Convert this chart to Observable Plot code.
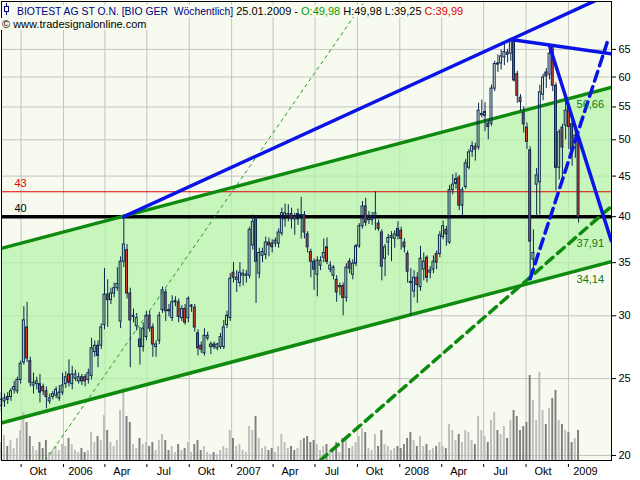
<!DOCTYPE html>
<html>
<head>
<meta charset="utf-8">
<script src="https://cdn.jsdelivr.net/npm/d3@7"></script>
<script src="https://cdn.jsdelivr.net/npm/@observablehq/plot@0.6"></script>
<style>
  html, body { margin: 0; padding: 0; background: #ffffff; }
  #chart { position: relative; width: 640px; height: 480px; overflow: hidden; }
  #chart svg { position: absolute; left: 0; top: 0; }
</style>
</head>
<body>
<div id="chart"></div>
<script>
// Weekly bars, one per week, ending on Fridays
const firstWeek = new Date(2005, 7, 19);

const open = [
  23.1,23.4,23.7,23.7,24.2,24.1,24.9,26.2,29.0,26.3, 24.5,24.6,24.6,24.4,24.1,23.4,23.7,23.8,23.6,24.0,
  24.6,25.3,24.6,25.0,24.8,25.1,25.1,24.9,25.2,27.0, 27.5,27.5,29.2,31.9,31.4,32.0,32.5,29.5,35.1,36.3,
  32.0,29.9,29.1,28.0,27.4,28.2,30.0,29.0,27.4,27.9, 30.5,32.1,30.5,29.8,31.2,31.2,29.8,30.6,29.8,30.8,
  30.7,28.5,27.5,26.9,28.1,27.4,27.6,27.3,27.4,27.4, 29.2,29.8,34.0,33.3,33.0,33.7,33.7,33.7,36.8,39.7,
  33.9,35.7,35.8,37.1,37.0,37.0,37.0,38.1,39.7,40.0, 40.3,40.0,39.7,39.8,40.2,38.0,36.1,35.1,33.8,34.7,
  35.5,36.6,34.3,33.7,33.3,32.6,32.7,31.6,35.1,33.8, 34.9,36.7,38.9,41.2,39.6,39.6,39.8,39.2,38.2,35.4,
  37.1,37.6,37.5,38.6,38.4,37.1,35.9,33.1,32.2,33.5, 32.6,34.3,35.5,34.0,34.3,35.9,35.9,37.7,38.5,37.1,
  43.2,44.0,44.8,41.3,43.6,46.1,48.3,49.0,48.9,53.7, 53.6,52.4,52.4,58.0,62.4,62.4,63.5,64.4,64.2,66.4,
  60.5,56.5,54.0,51.8,48.5,35.3,43.9,44.2,57.0,60.8, 60.4,65.2,58.5,46.1,51.8,52.1,54.8,52.3,48.9,49.98
];
const high = [
  24.0,23.9,24.0,24.3,24.8,25.1,26.3,30.8,31.2,26.6, 25.4,25.1,25.3,24.6,24.4,23.9,24.1,24.4,24.5,25.4,
  25.5,26.4,25.9,25.6,25.4,25.3,25.3,25.7,28.1,27.9, 27.9,29.3,34.4,33.3,32.5,33.0,34.5,35.6,40.0,36.9,
  32.5,30.6,30.2,29.0,29.4,30.4,30.4,29.3,27.9,30.3, 32.6,32.4,31.0,31.8,31.7,31.5,30.9,31.0,31.7,31.0,
  31.0,28.8,27.8,28.9,28.6,27.8,27.8,27.7,28.5,29.6, 30.4,33.9,35.0,34.2,35.0,34.3,34.2,38.8,40.2,40.0,
  36.5,36.5,37.7,37.6,37.4,37.6,38.6,41.0,41.5,41.4, 41.0,40.4,40.9,42.3,40.6,38.3,36.4,35.4,35.6,35.6,
  37.5,37.6,35.1,34.7,33.7,33.0,33.0,34.9,35.4,35.3, 36.9,39.2,41.8,42.2,40.6,40.5,43.0,39.6,38.5,36.9,
  38.0,38.3,38.4,39.4,38.8,37.5,36.2,34.4,34.2,34.0, 36.7,36.0,35.7,34.6,35.7,36.2,38.3,39.5,38.9,43.8,
  45.2,45.4,45.1,43.5,47.2,48.6,49.7,49.5,55.6,56.1, 55.7,53.0,58.6,62.8,64.0,64.9,66.0,65.0,66.9,66.6,
  61.0,57.0,55.0,52.5,49.0,38.5,46.0,58.6,60.5,61.5, 65.7,65.5,59.0,51.5,52.3,56.3,55.5,53.0,51.8,49.98
];
const low = [
  22.7,23.0,23.2,23.4,23.9,23.9,24.6,26.0,26.2,24.4, 23.9,24.2,23.3,23.8,22.9,23.2,23.5,23.6,23.4,23.8,
  24.3,24.4,24.2,24.8,24.6,24.5,24.4,24.6,24.9,26.6, 25.8,27.2,28.8,29.0,31.0,31.6,32.2,28.9,34.5,31.5,
  25.8,29.4,28.7,26.0,27.0,27.9,28.6,26.6,26.6,27.6, 30.2,29.5,29.9,29.5,30.8,29.4,29.5,29.2,29.4,30.3,
  28.6,26.7,26.9,26.7,27.9,26.8,27.2,27.1,27.2,27.2, 28.9,29.5,33.0,32.1,32.6,32.7,33.0,33.4,36.3,31.1,
  33.4,35.0,35.3,35.6,36.0,36.6,36.5,37.8,38.8,39.4, 38.6,37.9,39.0,37.5,37.5,36.0,33.5,32.3,31.7,34.2,
  35.0,34.8,34.0,33.3,31.2,31.8,30.0,31.2,33.9,33.3, 34.6,36.5,38.6,38.9,39.1,39.0,38.4,38.3,33.2,33.6,
  35.7,35.1,36.5,37.4,36.3,36.0,33.0,30.0,31.6,31.1, 32.2,33.2,33.0,33.4,33.9,34.3,35.5,37.4,36.7,36.9,
  42.6,43.3,40.7,40.0,43.3,45.8,47.5,47.0,48.5,53.3, 51.2,50.0,52.0,57.5,60.8,61.2,62.0,62.5,62.8,59.1,
  55.6,54.3,51.0,48.6,33.4,34.0,40.0,40.2,56.0,58.0, 59.5,57.5,43.1,44.5,44.0,50.0,48.6,46.3,47.4,39.25
];
const close = [
  23.5,23.6,23.5,24.1,24.4,24.9,26.1,29.6,26.5,24.7, 24.7,24.8,24.0,24.1,23.7,23.6,23.9,24.2,24.0,24.5,
  25.1,24.7,25.3,25.3,25.1,24.8,24.8,25.4,27.3,27.5, 26.7,29.0,31.9,31.4,32.0,32.5,32.9,35.1,36.9,32.0,
  29.6,30.0,29.8,27.4,28.9,30.0,28.9,27.6,27.6,30.0, 32.3,30.4,30.4,31.2,31.3,29.9,30.6,29.4,31.5,30.9,
  29.0,27.3,27.2,28.3,28.3,27.6,27.4,27.6,28.2,29.0, 30.0,33.4,33.5,33.5,34.0,33.9,33.8,38.5,39.4,35.1,
  36.0,36.1,37.1,36.8,36.6,37.3,38.2,40.4,40.4,40.3, 39.7,39.7,40.3,40.2,38.2,36.6,35.1,34.3,35.2,35.2,
  36.0,35.1,34.7,34.5,32.1,32.7,31.6,34.5,34.4,34.9, 36.7,38.9,41.2,39.3,40.1,40.0,40.4,38.6,34.6,36.6,
  37.6,37.8,38.0,37.8,37.5,36.6,34.1,33.0,33.5,32.8, 35.4,35.1,33.5,34.2,35.1,35.0,37.9,38.9,38.0,43.2,
  43.9,44.6,41.3,43.2,46.7,48.2,49.1,48.6,54.4,53.9, 54.2,51.9,58.0,62.3,62.2,63.7,64.5,64.0,66.5,59.4,
  56.8,55.8,52.3,49.7,37.2,36.0,45.1,57.4,59.9,60.1, 64.2,58.5,46.1,51.1,48.9,54.4,51.9,48.5,50.6,39.99
];
// Weekly volume, thousand shares
const volume = [
  90,125,70,100,60,110,150,240,190,120, 70,50,90,60,100,40,50,70,50,80,
  70,110,80,50,40,60,40,50,140,90, 120,100,225,150,90,70,100,250,360,220,
  190,80,60,110,80,90,70,90,50,100, 130,100,50,70,40,80,50,60,90,40,
  80,100,50,70,40,30,40,30,50,70, 60,150,110,70,80,50,40,170,150,220,
  110,60,70,50,60,40,70,130,90,60, 70,50,60,100,110,120,90,100,80,50,
  70,80,50,60,90,40,110,120,60,70, 90,120,160,140,60,50,130,70,150,80,
  70,50,60,70,60,80,110,140,100,70, 120,70,80,50,60,70,90,70,60,180,
  150,100,130,90,150,140,100,80,220,150, 120,90,200,240,150,130,170,110,200,250,
  220,150,170,190,425,300,200,440,250,180, 260,310,350,200,180,150,140,90,110,150
];

// Trend lines and levels (date, price)
const channelDates = [new Date(2005, 7, 19), new Date(2009, 3, 4)];
const channelLower = [21.98, 35.10];
const channelUpper = [36.48, 58.20];

const resistanceDates = [new Date(2006, 4, 12), new Date(2008, 7, 29), new Date(2009, 3, 4)];
const resistancePrices = [40.0, 66.9, 76.5];
const topLineDates = [new Date(2008, 7, 29), new Date(2009, 3, 4)];
const topLinePrices = [66.9, 64.2];
const fallLineDates = [new Date(2008, 10, 21), new Date(2009, 3, 4)];
const fallLinePrices = [65.7, 37.3];
const riseLineDates = [new Date(2008, 9, 10), new Date(2009, 2, 26)];
const riseLinePrices = [33.4, 66.3];
const supportDashDates = [new Date(2007, 6, 12), new Date(2009, 3, 4)];
const supportDashPrices = [19.71, 41.2];
const thinDashDates = [new Date(2005, 10, 23), new Date(2007, 9, 16)];
const thinDashPrices = [19.71, 74.7];

const levels = [43, 40];
const levelColors = ["#e00000", "#000000"];
const levelWidths = [1, 3.5];

const markerDate = new Date(2009, 0, 23);
const markerValues = [56.66, 37.91, 34.14];

const priceTicks = [20, 25, 30, 35, 40, 45, 50, 55, 60, 65];
const timeTicks = [
  new Date(2005, 9, 1), new Date(2006, 0, 1), new Date(2006, 3, 1), new Date(2006, 6, 1),
  new Date(2006, 9, 1), new Date(2007, 0, 1), new Date(2007, 3, 1), new Date(2007, 6, 1),
  new Date(2007, 9, 1), new Date(2008, 0, 1), new Date(2008, 3, 1), new Date(2008, 6, 1),
  new Date(2008, 9, 1), new Date(2009, 0, 1)
];
const timeLabels = ["Okt","2006","Apr","Jul","Okt","2007","Apr","Jul","Okt","2008","Apr","Jul","Okt","2009"];

const titleName = "BIOTEST AG ST O.N. [BIO GER  Wöchentlich]";
const titleDate = "25.01.2009";
const sourceText = "© www.tradesignalonline.com";

// ---------- derived tables ----------
const dayMs = 864e5;
const bars = open.map((o, i) => ({
  date: new Date(firstWeek.getTime() + 7 * i * dayMs),
  o, h: high[i], l: low[i], c: close[i], v: volume[i]
}));
const half = 2.1 * dayMs;
const channel = channelDates.map((date, i) => ({date, lo: channelLower[i], hi: channelUpper[i]}));
const pts = (ds, ps) => ds.map((date, i) => ({date, p: ps[i]}));
const fmt = v => v.toFixed(2).replace(".", ",");
const ticks = timeTicks.map((date, i) => ({date, label: timeLabels[i]}));

const W = 640, H = 480;
const sans = "'Liberation Sans', Arial, sans-serif";
const base = {
  width: W, height: H,
  marginLeft: 1, marginRight: 29, marginTop: 1, marginBottom: 20,
  style: {background: "none", fontFamily: sans, fontSize: "11px", color: "#000"}
};
const xScale = {type: "time", domain: [new Date(2005, 7, 19, 12), new Date(2009, 3, 4, 12)]};
const yScale = {type: "log", domain: [19.71, 74.7]};

const navy = "#0b2450";
const redFill = "#e2401a";
const bg = "#f7fbef";

// back layer: plot area, grid, channel fill
const back = Plot.plot({
  ...base,
  style: {...base.style, background: "#ffffff"},
  x: {...xScale, axis: null},
  y: {...yScale, axis: null},
  marks: [
    Plot.frame({fill: bg, stroke: null}),
    Plot.gridX(timeTicks, {stroke: "#c3c3c3", strokeOpacity: 1}),
    Plot.gridY(priceTicks, {stroke: "#c3c3c3", strokeOpacity: 1}),
    Plot.areaY(channel, {x: "date", y1: "lo", y2: "hi", fill: "#b4f4a8", fillOpacity: 0.72})
  ]
});

// volume layer
const vol = Plot.plot({
  ...base,
  x: {...xScale, axis: null},
  y: {type: "linear", domain: [0, 2295], axis: null},
  marks: [
    Plot.rect(bars, {
      x1: d => new Date(d.date.getTime() - half),
      x2: d => new Date(d.date.getTime() + half),
      y1: 0, y2: "v",
      fill: d => d.c < d.o ? "#7f7f7f" : "#bdbdbd"
    })
  ]
});

// front layer: levels, trend lines, candles, labels, axes
const bodyTop = d => Math.max(d.o, d.c);
const bodyBot = d => Math.min(d.o, d.c);
const front = Plot.plot({
  ...base,
  x: xScale,
  y: yScale,
  marks: [
    Plot.ruleY(levels, {stroke: (d, i) => levelColors[i], strokeWidth: (d, i) => levelWidths[i]}),
    Plot.text(levels, {y: d => d, text: d => String(d), frameAnchor: "left", dx: 13, dy: -8, textAnchor: "start",
      fill: (d, i) => levelColors[i], fontSize: 11}),
    Plot.line(pts(thinDashDates, thinDashPrices), {x: "date", y: "p", stroke: "#1f9a1f", strokeWidth: 1, strokeDasharray: "3,4", clip: true}),
    Plot.line(channel, {x: "date", y: "lo", stroke: "#0e8a0e", strokeWidth: 3.5, clip: true}),
    Plot.line(channel, {x: "date", y: "hi", stroke: "#0e8a0e", strokeWidth: 3.5, clip: true}),
    Plot.line(pts(supportDashDates, supportDashPrices), {x: "date", y: "p", stroke: "#0e8a0e", strokeWidth: 3.5, strokeDasharray: "9,6", clip: true}),
    // candles
    Plot.ruleX(bars, {x: "date", y1: "h", y2: bodyTop, stroke: navy, strokeWidth: 1}),
    Plot.ruleX(bars, {x: "date", y1: bodyBot, y2: "l", stroke: navy, strokeWidth: 1}),
    Plot.rect(bars, {
      x1: d => new Date(d.date.getTime() - half),
      x2: d => new Date(d.date.getTime() + half),
      y1: bodyBot, y2: bodyTop,
      fill: d => d.c < d.o ? redFill : "none",
      stroke: navy, strokeWidth: 1
    }),
    // blue trend lines
    Plot.line(pts(resistanceDates, resistancePrices), {x: "date", y: "p", stroke: "#0a14e6", strokeWidth: 3.5, clip: true}),
    Plot.line(pts(topLineDates, topLinePrices), {x: "date", y: "p", stroke: "#0a14e6", strokeWidth: 3.5, clip: true}),
    Plot.line(pts(fallLineDates, fallLinePrices), {x: "date", y: "p", stroke: "#0a14e6", strokeWidth: 3.5, clip: true}),
    Plot.line(pts(riseLineDates, riseLinePrices), {x: "date", y: "p", stroke: "#0a14e6", strokeWidth: 3.5, strokeDasharray: "10,6", clip: true}),
    // values where the lines cross the last week
    Plot.text(markerValues, {x: () => markerDate, y: d => d, text: fmt, textAnchor: "start", dx: -2, dy: 8, fill: "#0e7a0e", fontSize: 11}),
    // axes
    Plot.axisY(priceTicks, {anchor: "right", tickSize: 4, tickPadding: 3, tickFormat: d => String(d), fontSize: 11}),
    Plot.axisX(timeTicks, {tickSize: 3, dy: 4, tickFormat: () => ""}),
    Plot.text(ticks, {x: "date", text: "label", frameAnchor: "bottom", dy: 14, dx: 17, fontSize: 11}),
    Plot.frame({stroke: "#000", strokeWidth: 1})
  ]
});

const host = document.getElementById("chart");
host.append(back, vol, front);

// header: instrument, date and the last bar's prices
const last = bars[bars.length - 1];
const hdr = d3.select(front).append("g")
  .attr("font-family", sans)
  .attr("font-size", 11)
  .attr("text-anchor", "start")
  .style("white-space", "pre");
const boxes = hdr.append("g");
const line1 = hdr.append("text").attr("x", 17).attr("y", 15);
line1.append("tspan").attr("fill", "#000080").attr("font-size", 10.4).text(titleName);
line1.append("tspan").attr("fill", "#000").text(" " + titleDate + " - ");
line1.append("tspan").attr("fill", "#009a00").text("O:" + fmt(last.o) + " ");
line1.append("tspan").attr("fill", "#000").text("H:" + fmt(last.h) + " L:" + fmt(last.l) + " ");
line1.append("tspan").attr("fill", "#e00000").text("C:" + fmt(last.c));
const line2 = hdr.append("text").attr("x", 2).attr("y", 28).attr("fill", "#000").text(sourceText);
for (const t of [line1, line2]) {
  const b = t.node().getBBox();
  boxes.append("rect").attr("x", b.x - 1).attr("y", b.y).attr("width", b.width + 2).attr("height", b.height).attr("fill", bg);
}
// small candle glyph in front of the name
const icon = hdr.append("g").attr("stroke", "#000080").attr("fill", "none");
icon.append("line").attr("x1", 6.5).attr("x2", 6.5).attr("y1", 3).attr("y2", 15);
icon.append("rect").attr("x", 4.5).attr("y", 6.5).attr("width", 4).attr("height", 5).attr("fill", bg);
</script>
</body>
</html>
